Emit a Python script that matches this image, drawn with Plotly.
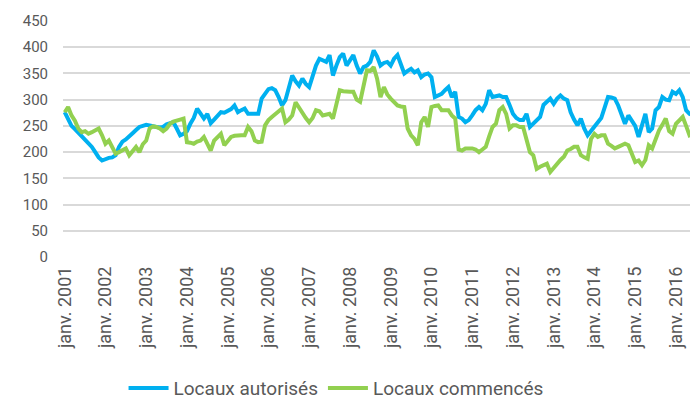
import plotly.graph_objects as go

years = list(range(2001, 2017))
tick_labels = [f"janv. {y}" for y in years]

autorises = [276, 262, 250, 244, 237, 230, 224, 218, 210, 200, 190, 184,
             187, 189, 190, 194, 210, 220, 224, 231, 236, 242, 248, 250,
             252, 251, 249, 248, 247, 248, 253, 255, 257, 245, 232, 235,
             240, 254, 265, 283, 272, 264, 273, 255, 262, 270, 276, 275,
             278, 282, 289, 276, 280, 283, 273, 273, 274, 273, 302, 312,
             320, 322, 318, 305, 289, 299, 320, 346, 335, 327, 340, 330,
             324, 345, 365, 378, 375, 372, 385, 346, 365, 381, 388, 365,
             375, 385, 365, 350, 362, 365, 372, 394, 382, 365, 370, 372,
             365, 378, 385, 368, 350, 355, 359, 352, 356, 343, 348, 350,
             343, 305, 308, 311, 318, 324, 305, 315, 267, 264, 257, 261,
             270, 280, 286, 280, 292, 318, 305, 306, 308, 305, 305, 290,
             273, 265, 261, 261, 273, 248, 255, 261, 267, 290, 296, 302,
             292, 302, 308, 302, 299, 276, 262, 251, 264, 245, 232, 240,
             251, 257, 265, 285, 305, 304, 302, 289, 270, 254, 270, 261,
             250, 229, 250, 273, 238, 245, 280, 286, 305, 300, 299, 315,
             311, 318, 305, 280, 273, 270, 264]

commences = [276, 286, 270, 260, 245, 238, 240, 235, 238, 242, 245, 232,
             216, 222, 210, 197, 200, 204, 207, 194, 202, 210, 200, 215,
             222, 245, 249, 248, 245, 240, 245, 254, 258, 261, 262, 264,
             219, 218, 216, 220, 222, 229, 215, 203, 222, 228, 235, 213,
             222, 229, 231, 232, 232, 232, 248, 240, 222, 219, 220, 251,
             261, 267, 272, 277, 283, 257, 262, 270, 295, 285, 273, 265,
             257, 265, 280, 278, 270, 272, 273, 264, 290, 318, 316, 315,
             315, 315, 300, 296, 330, 356, 355, 362, 340, 305, 324, 310,
             302, 295, 289, 287, 286, 245, 232, 225, 213, 257, 267, 248,
             286, 288, 289, 280, 280, 280, 270, 264, 205, 203, 207, 207,
             207, 205, 200, 205, 210, 230, 248, 254, 280, 286, 273, 245,
             251, 251, 248, 248, 225, 200, 194, 168, 172, 175, 178, 162,
             170, 178, 185, 191, 203, 206, 210, 210, 194, 190, 187, 225,
             235, 229, 232, 232, 216, 212, 207, 210, 213, 216, 213, 195,
             181, 184, 175, 185, 213, 207, 225, 241, 252, 264, 240, 235,
             254, 260, 267, 250, 232, 235, 238]

months = list(range(len(autorises)))
tick_pos = [12 * i for i in range(len(tick_labels))]

font_family = "Roboto, Arial, sans-serif"
grey = "#595959"

fig = go.Figure()
fig.add_trace(go.Scatter(x=months, y=autorises, mode="lines",
                         name="Locaux autorisés",
                         line=dict(color="#00B0F0", width=4)))
fig.add_trace(go.Scatter(x=months, y=commences, mode="lines",
                         name="Locaux commencés",
                         line=dict(color="#92D050", width=4)))

# page has an 8px body margin: figure is sized/offset to compensate
fig.update_layout(
    width=690, height=393,
    margin=dict(l=55, r=0, t=13, b=144, autoexpand=False),
    paper_bgcolor="white", plot_bgcolor="white",
    font=dict(family=font_family, size=15, color=grey),
    showlegend=True,
    legend=dict(orientation="h", x=0.43, xanchor="center", y=-0.475, yanchor="top",
                font=dict(size=19, color=grey), itemwidth=40, tracegroupgap=0,
                borderwidth=0),
)
fig.update_xaxes(
    range=[-0.5, len(months) - 0.5], automargin=False,
    tickmode="array", tickvals=tick_pos, ticktext=tick_labels,
    tickangle=-90, showgrid=False, zeroline=False, showline=False,
    ticks="", tickfont=dict(size=18, color=grey), ticklabelstandoff=5,
)
fig.update_yaxes(
    range=[0, 450], dtick=50, showgrid=True, gridcolor="#D9D9D9", gridwidth=1.5,
    zeroline=False, showline=False, ticks="", tickfont=dict(size=15, color=grey),
    ticklabelstandoff=14, automargin=False,
)

fig.write_html("out.html")
